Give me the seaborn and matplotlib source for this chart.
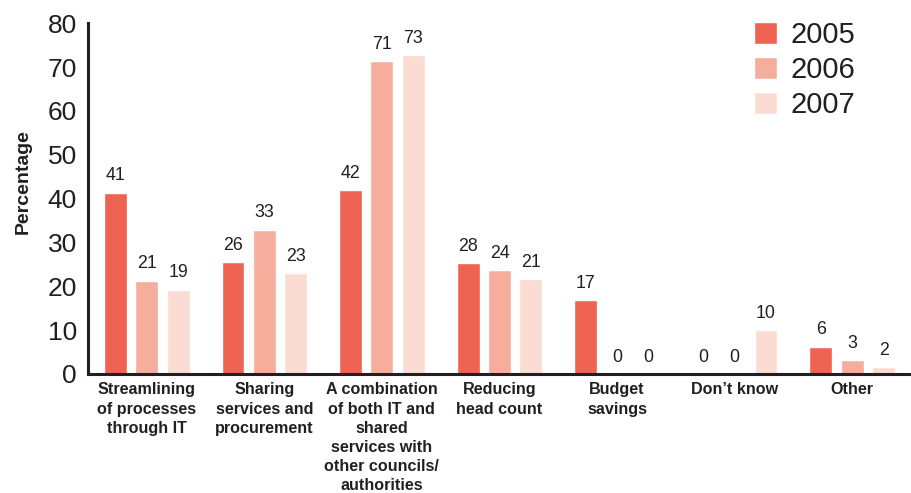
import pandas as pd
import matplotlib
matplotlib.use("Agg")
import matplotlib.pyplot as plt
import seaborn as sns

# categorias e valores
categorias = [
    "Streamlining\nof processes\nthrough IT",
    "Sharing\nservices and\nprocurement",
    "A combination\nof both IT and\nshared\nservices with\nother councils/\nauthorities",
    "Reducing\nhead count",
    "Budget\nsavings",
    "Don\u2019t know",
    "Other",
]
anos = ["2005", "2006", "2007"]

# altura das barras (estimada) e rótulos impressos
barras_2005 = [41.4, 25.5, 42.0, 25.3, 16.9, 0, 6.2]
barras_2006 = [21.3, 32.9, 71.4, 23.7, 0, 0, 3.2]
barras_2007 = [19.2, 23.0, 72.8, 21.7, 0, 10.0, 1.6]

rotulos_2005 = ["41", "26", "42", "28", "17", "0", "6"]
rotulos_2006 = ["21", "33", "71", "24", "0", "0", "3"]
rotulos_2007 = ["19", "23", "73", "21", "0", "10", "2"]

cores = ["#EE6352", "#F6AD9B", "#FBDCD3"]
preto = "#231f20"

dados = pd.DataFrame({
    "categoria": categorias * 3,
    "ano": [a for a in anos for _ in categorias],
    "valor": barras_2005 + barras_2006 + barras_2007,
})

sns.set_style("white")
plt.rcParams["font.family"] = ["Liberation Sans", "DejaVu Sans"]

fig = plt.figure(figsize=(9.11, 4.93), dpi=100)
ax = fig.add_axes([0.0966, 0.2414, 0.9034, 0.7113])

sns.barplot(data=dados, x="categoria", y="valor", hue="ano", order=categorias,
            hue_order=anos, palette=cores, saturation=1, width=0.8, gap=0.27,
            errorbar=None, ax=ax)

# rótulos de valor
for cont, rot in zip(ax.containers, [rotulos_2005, rotulos_2006, rotulos_2007]):
    ax.bar_label(cont, labels=rot, padding=6, fontsize=12.8, color=preto)

ax.set_xlim(-0.5, 6.5)
ax.set_ylim(0, 80)
ax.set_yticks(range(0, 81, 10))
ax.set_xlabel("")
ax.set_ylabel("Percentage", fontsize=14, fontweight="bold", color=preto)
ax.yaxis.set_label_coords(-0.068, 0.55)

for s in ["top", "right"]:
    ax.spines[s].set_visible(False)
for s in ["left", "bottom"]:
    ax.spines[s].set_linewidth(2.2)
    ax.spines[s].set_color(preto)

ax.tick_params(axis="y", direction="in", length=10, width=2.2, color=preto,
               labelsize=19, labelcolor=preto, pad=8)
ax.tick_params(axis="x", length=0, pad=6, labelsize=11.6, labelcolor=preto)
for t in ax.get_xticklabels():
    t.set_fontweight("bold")
    t.set_linespacing(1.35)

# separadores entre categorias
ax.set_xticks([i + 0.5 for i in range(6)], minor=True)
ax.tick_params(axis="x", which="minor", direction="in", length=6, width=2.2,
               color=preto)

handles, labels = ax.get_legend_handles_labels()
ax.legend(handles, labels, loc="upper left", bbox_to_anchor=(754 / 911, 1 - 21 / 493),
          bbox_transform=fig.transFigure, frameon=False, fontsize=21,
          handlelength=0.79, handleheight=0.79, handletextpad=0.47,
          labelspacing=0.24, borderpad=0, borderaxespad=0, labelcolor=preto)

fig.savefig("out.png", dpi=100)
